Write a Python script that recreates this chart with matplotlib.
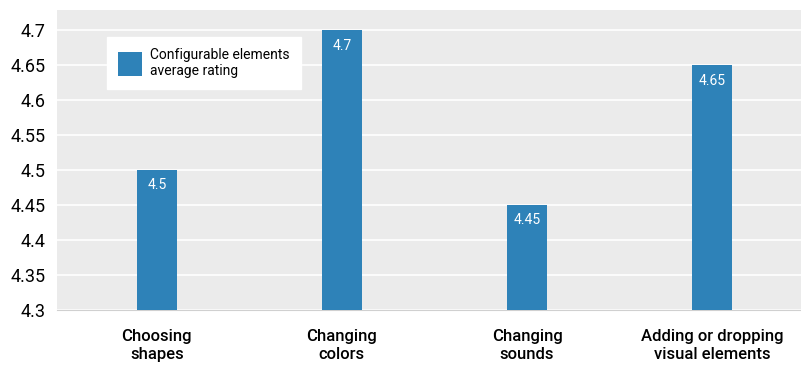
import matplotlib.pyplot as plt
import numpy as np

categories = ['Choosing\nshapes', 'Changing\ncolors', 'Changing\nsounds', 'Adding or dropping\nvisual elements']
ratings = [4.5, 4.7, 4.45, 4.65]
series_name = 'Configurable elements\naverage rating'

plt.rcParams['font.family'] = ['Roboto', 'DejaVu Sans']

fig = plt.figure(figsize=(8.01, 3.65), dpi=100)
ax = fig.add_axes([0.071, 0.152, 0.929, 0.82])
ax.set_facecolor('#ebebeb')

x = np.arange(len(categories))
bars = ax.bar(x, np.array(ratings) - 4.3, bottom=4.3, width=0.215,
              color='#2e82b8', label=series_name, zorder=3)

for b, v in zip(bars, ratings):
    ax.text(b.get_x() + b.get_width() / 2, v - 0.012, f'{v:g}',
            ha='center', va='top', color='white', fontsize=10, zorder=4)

ax.set_ylim(4.3, 4.729)
ax.set_xlim(-0.54, 3.48)
ax.set_yticks(np.arange(4.3, 4.701, 0.05))
ax.set_yticklabels([f'{t:g}' for t in np.arange(4.3, 4.701, 0.05).round(2)])
ax.grid(axis='y', color='white', linewidth=1.2, zorder=0)
ax.set_xticks(x)
ax.set_xticklabels(categories, fontsize=12, fontweight='medium', linespacing=1.25)
ax.tick_params(axis='y', labelsize=13, length=0, pad=8)
ax.tick_params(axis='x', length=0, pad=14)
for s in ax.spines.values():
    s.set_visible(False)
ax.spines['bottom'].set_visible(True)
ax.spines['bottom'].set_color('#d0d0d0')

leg = ax.legend(loc='upper left', bbox_to_anchor=(0.058, 0.935), frameon=True,
                fancybox=False, edgecolor='white', facecolor='white', framealpha=1,
                fontsize=10, handlelength=1.7, handleheight=2.3, handletextpad=0.6,
                borderpad=0.8)

fig.savefig('out.png', dpi=100)
